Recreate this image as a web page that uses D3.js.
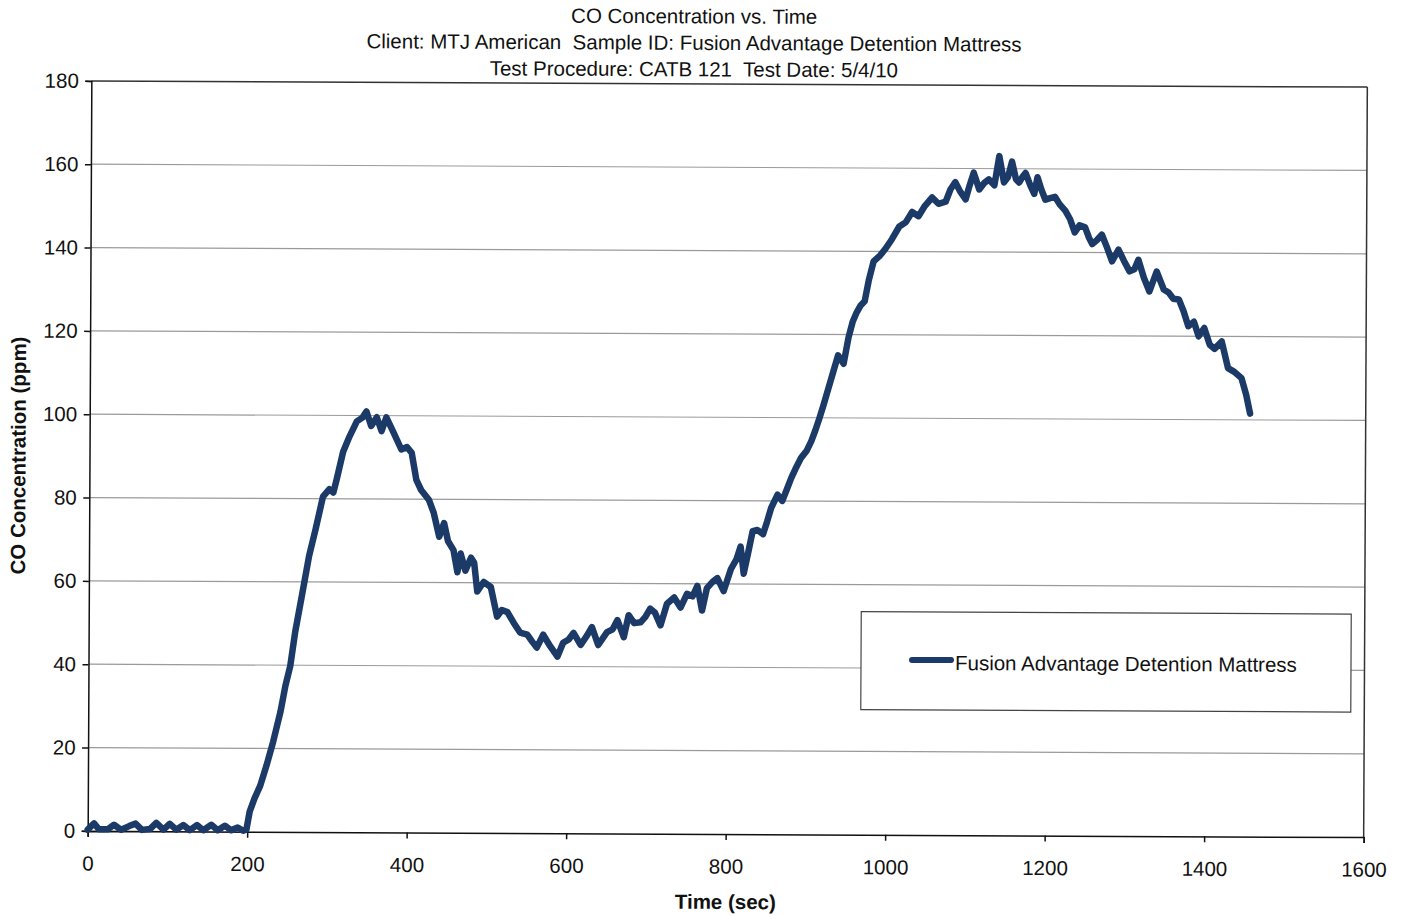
<!DOCTYPE html>
<html>
<head>
<meta charset="utf-8">
<script src="https://cdn.jsdelivr.net/npm/d3@7"></script>
<style>
  body { margin: 0; background: #fff; }
  text { font-family: Arial, "Liberation Sans", sans-serif; fill: #111; white-space: pre; }
</style>
</head>
<body>
<div class="co-chart"></div>
<script>
// time (sec) and CO (ppm)
const timeSec = [0, 8, 14, 25, 33, 42, 52, 60, 68, 78, 86, 95, 103, 111, 120, 128, 137, 145, 155, 163,
  172, 180, 188, 195, 199, 203, 209, 216, 224, 232, 241, 247, 253, 259, 268, 276, 284, 293, 301, 306,
  310, 318, 326, 335, 342, 347, 353, 360, 366, 372, 381, 391, 398, 404, 410, 416, 426, 432, 439, 445,
  450, 457, 462, 466, 472, 479, 483, 487, 495, 504, 512, 518, 525, 533, 541, 550, 556, 562, 570, 579,
  588, 595, 602, 608, 617, 625, 631, 639, 650, 657, 663, 671, 677, 684, 692, 698, 704, 710, 717, 725,
  734, 742, 750, 757, 763, 769, 775, 782, 788, 796, 805, 812, 817, 821, 827, 832, 838, 845, 850, 855,
  863, 869, 875, 880, 886, 892, 899, 905, 910, 915, 920, 926, 932, 938, 945, 951, 956, 961, 966, 971,
  976, 982, 990, 997, 1005, 1014, 1022, 1030, 1038, 1046, 1055, 1063, 1072, 1078, 1084, 1090, 1097, 1102, 1107, 1114,
  1120, 1126, 1133, 1139, 1145, 1150, 1155, 1160, 1164, 1168, 1172, 1178, 1183, 1187, 1192, 1197, 1203, 1209, 1215, 1222,
  1228, 1234, 1240, 1247, 1252, 1256, 1262, 1268, 1275, 1281, 1289, 1296, 1303, 1309, 1314, 1321, 1328, 1337, 1346, 1352,
  1358, 1365, 1371, 1377, 1384, 1390, 1397, 1404, 1410, 1419, 1427, 1435, 1444, 1450, 1455];

const coPpm = [0.3, 1.8, 0.4, 0.4, 1.5, 0.3, 1.2, 1.8, 0.3, 0.5, 2.0, 0.4, 1.8, 0.4, 1.5, 0.3, 1.5, 0.3, 1.6, 0.3,
  1.4, 0.3, 1.0, 0.2, 0.5, 4.8, 8, 11, 16, 21.6, 28.8, 35, 39.8, 48, 57.6, 66.3, 72.7, 80.5, 82.3, 81.5,
  84.6, 91.3, 95, 98.6, 99.5, 101, 97.5, 99.6, 96.3, 99.6, 96, 91.9, 92.5, 91.1, 84.6, 82.2, 79.8, 76.7, 71, 74.3,
  70, 67.8, 62.5, 67, 62.9, 66, 64.8, 57.9, 60.2, 59, 51.9, 53.5, 53, 50.4, 48.1, 47.6, 46, 44.5, 47.6, 44.8,
  42.4, 45.7, 46.5, 48.1, 45.2, 47.5, 49.5, 45.2, 48.3, 49, 51.2, 47.1, 52.4, 50.5, 50.7, 52, 54, 53, 50, 55.2,
  56.7, 54.3, 57.6, 57, 59.5, 53.6, 59, 60.5, 61.4, 58.3, 63.6, 66, 69, 62.5, 68, 72.7, 73, 72, 75, 78.3,
  81.5, 80, 83, 85.5, 88, 90.3, 92, 94.4, 97, 99.9, 103, 107, 111, 115, 113, 119.3, 123, 125.3, 127, 128,
  133, 137.6, 139, 140.7, 143, 146, 147, 149.5, 148.5, 151, 153, 151.5, 152, 155, 156.7, 154.5, 152.6, 156, 159, 155,
  156.5, 157.4, 156, 163, 156.7, 158, 161.7, 157.5, 156.7, 158, 159, 156, 154, 158, 155, 152.6, 153, 153.3, 151.5, 150,
  148, 144.8, 146.5, 146, 143.5, 142, 143, 144.3, 141, 137.9, 140.7, 138, 135.5, 136, 138.3, 134, 130.7, 135.5, 131.2, 130.5,
  129, 128.8, 126, 122.4, 123.5, 120, 122, 118, 117, 118.8, 112.4, 111.5, 110, 106, 101.5];

const titleLines = [
  "CO Concentration vs. Time",
  "Client: MTJ American  Sample ID: Fusion Advantage Detention Mattress",
  "Test Procedure: CATB 121  Test Date: 5/4/10"
];
const seriesName = "Fusion Advantage Detention Mattress";
const xTicks = [0, 200, 400, 600, 800, 1000, 1200, 1400, 1600];
const yTicks = [0, 20, 40, 60, 80, 100, 120, 140, 160, 180];

const data = timeSec.map((t, i) => ({t: t, v: coPpm[i]}));

const W = 1407, H = 916;
const margin = {top: 84, left: 89.5};
const w = 1276, h = 750;
const lineColor = "#1b3a67";

const root = d3.select(".co-chart")
  .append("svg")
    .attr("width", W)
    .attr("height", H)
  .append("g")
    // the scan is tilted a little clockwise
    .attr("transform", "rotate(0.28, 728, 459)");

// titles
root.selectAll(".title")
  .data(titleLines)
  .join("text")
    .attr("class", "title")
    .attr("x", 692)
    .attr("y", (d, i) => 23.5 + i * 26.5)
    .attr("text-anchor", "middle")
    .attr("font-size", 20.5)
    .text(d => d);

const svg = root.append("g")
  .attr("transform", `translate(${margin.left},${margin.top})`);

const xScale = d3.scaleLinear().domain([0, 1600]).range([0, w]);
const yScale = d3.scaleLinear().domain([0, 180]).range([h, 0]);

// gridlines
svg.append("g")
  .selectAll("line")
  .data(yTicks.filter(d => d > 0 && d < 180))
  .join("line")
    .attr("x1", 0)
    .attr("x2", w)
    .attr("y1", d => yScale(d))
    .attr("y2", d => yScale(d))
    .attr("stroke", "#9a9a9a")
    .attr("stroke-width", 1.2);

// plot frame top / right
svg.append("line")
  .attr("x1", 0).attr("x2", w).attr("y1", 0).attr("y2", 0)
  .attr("stroke", "#333").attr("stroke-width", 1.5);
svg.append("line")
  .attr("x1", w).attr("x2", w).attr("y1", 0).attr("y2", h)
  .attr("stroke", "#333").attr("stroke-width", 1.5);

const xAxis = d3.axisBottom(xScale)
  .tickValues(xTicks)
  .tickSize(6)
  .tickPadding(19)
  .tickFormat(d3.format("d"));

const yAxis = d3.axisLeft(yScale)
  .tickValues(yTicks)
  .tickSize(6)
  .tickPadding(6.5);

svg.append("g")
  .attr("transform", `translate(0,${h})`)
  .call(xAxis)
  .call(g => g.selectAll("path, line").attr("stroke", "#111").attr("stroke-width", 1.5))
  .call(g => g.selectAll("text").attr("font-size", 20.5).attr("fill", "#111")
    .attr("font-family", "Arial, 'Liberation Sans', sans-serif"));

svg.append("g")
  .call(yAxis)
  .call(g => g.selectAll("path, line").attr("stroke", "#111").attr("stroke-width", 1.5))
  .call(g => g.selectAll("text").attr("font-size", 20.5).attr("fill", "#111")
    .attr("font-family", "Arial, 'Liberation Sans', sans-serif"));

// axis titles
svg.append("text")
  .attr("x", w / 2)
  .attr("y", h + 75)
  .attr("text-anchor", "middle")
  .attr("font-size", 20.5)
  .attr("font-weight", "bold")
  .text("Time (sec)");

svg.append("text")
  .attr("transform", `translate(${-64},${h / 2}) rotate(-90)`)
  .attr("text-anchor", "middle")
  .attr("font-size", 20.5)
  .attr("font-weight", "bold")
  .text("CO Concentration (ppm)");

// the series
const line = d3.line()
  .x(d => xScale(d.t))
  .y(d => yScale(d.v));

svg.append("path")
  .datum(data)
  .attr("fill", "none")
  .attr("stroke", lineColor)
  .attr("stroke-width", 6.5)
  .attr("stroke-linejoin", "round")
  .attr("stroke-linecap", "round")
  .attr("d", line);

// legend
const legend = root.append("g")
  .attr("transform", "translate(862,611)");

legend.append("rect")
  .attr("width", 490)
  .attr("height", 98)
  .attr("fill", "#fff")
  .attr("stroke", "#444")
  .attr("stroke-width", 1.2);

legend.append("line")
  .attr("x1", 51).attr("x2", 90)
  .attr("y1", 48).attr("y2", 48)
  .attr("stroke", lineColor)
  .attr("stroke-width", 6)
  .attr("stroke-linecap", "round");

legend.append("text")
  .attr("x", 94)
  .attr("y", 58)
  .attr("font-size", 20.5)
  .text(seriesName);
</script>
</body>
</html>
